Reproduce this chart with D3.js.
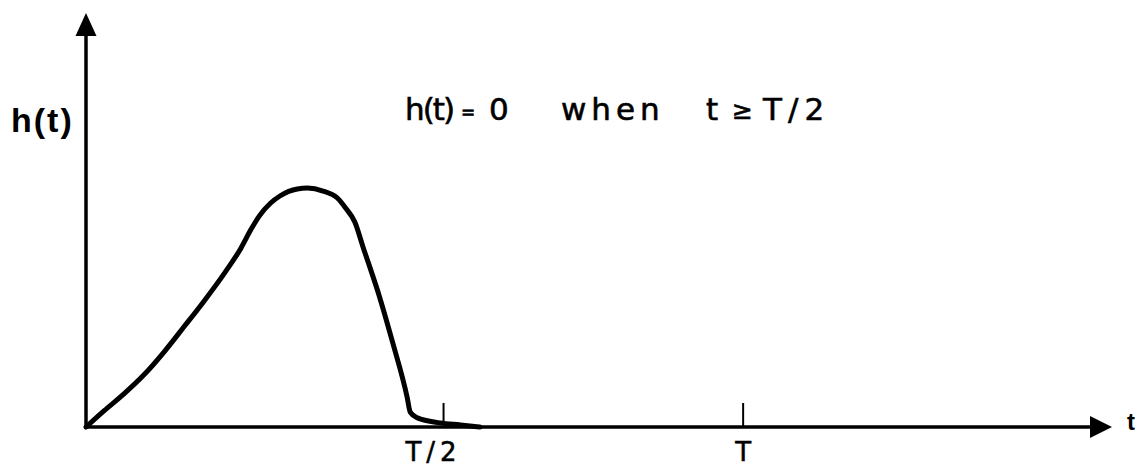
<!DOCTYPE html>
<html>
<head>
<meta charset="utf-8">
<script src="https://cdn.jsdelivr.net/npm/d3@7"></script>
<style>
  html, body { margin: 0; padding: 0; background: #fff; }
  svg { display: block; }
</style>
</head>
<body>
<svg id="chart" width="1137" height="468"></svg>
<script>
// Impulse response sketch: h(t) rises, peaks, and falls to zero before T/2.
const tValues = [0, 1.75, 3.7, 5.65, 7.6, 9.55, 11.5, 13.45, 15.1, 16.1, 16.9, 18.0, 18.9,
                 20.6, 21.6, 23.1, 24.5, 25.3, 26.2, 27.0, 28.7, 29.9, 31.3, 31.6, 32.3,
                 34.5, 36.5, 38.4];
const hValues = [0, 3.9, 8.0, 12.6, 18.1, 24.2, 30.4, 37.0, 43.2, 47.8, 51.0, 54.1, 55.8,
                 57.5, 57.7, 57.0, 55.3, 52.9, 49.5, 43.5, 30.7, 20.3, 7.2, 3.6, 2.2,
                 1.0, 0.5, 0];

// Positions of the marked instants on the time axis, and their labels
const tickValues = [34.8, 64.0];
const tickLabels = ["T/2", "T"];

const sans = "'DejaVu Sans', 'Liberation Sans', Arial, sans-serif";
const sansBold = "'Liberation Sans', Arial, sans-serif";

const svg = d3.select("#chart");

const x = d3.scaleLinear().domain([0, 100]).range([86, 1112]);
const y = d3.scaleLinear().domain([0, 100]).range([427, 13]);

const x0 = x(0), y0 = y(0);
const xEnd = x(100), yEnd = y(100);
const head = 22;

// Axis lines
svg.append("line")
  .attr("x1", x0 - 1).attr("y1", y0).attr("x2", xEnd - head + 2).attr("y2", y0)
  .attr("stroke", "#000").attr("stroke-width", 3.5);
svg.append("line")
  .attr("x1", x0).attr("y1", y0 + 1.5).attr("x2", x0).attr("y2", yEnd + head)
  .attr("stroke", "#000").attr("stroke-width", 3.5);

// Arrowheads
svg.append("path")
  .attr("d", `M${xEnd},${y0} L${xEnd - head},${y0 - 11} L${xEnd - head},${y0 + 11} Z`)
  .attr("fill", "#000");
svg.append("path")
  .attr("d", `M${x0},${yEnd} L${x0 - 10.5},${yEnd + head + 1} L${x0 + 10.5},${yEnd + head + 1} Z`)
  .attr("fill", "#000");

// Time axis ticks (drawn upward) with labels below
const axis = d3.axisBottom(x)
  .tickValues(tickValues)
  .tickFormat((d, i) => tickLabels[i])
  .tickSizeInner(-24)
  .tickSizeOuter(0)
  .tickPadding(16);

const gAxis = svg.append("g")
  .attr("transform", `translate(0,${y0})`)
  .call(axis);
gAxis.select(".domain").remove();
gAxis.selectAll(".tick line").attr("stroke", "#000").attr("stroke-width", 2);
gAxis.selectAll(".tick text")
  .style("font-family", sans)
  .style("font-size", "26px")
  .style("letter-spacing", (d, i) => i === 0 ? "5px" : "0px")
  .attr("dx", (d, i) => i === 0 ? -10 : 0)
  .attr("fill", "#000")
  .attr("stroke", "#000").attr("stroke-width", 0.5);

// The curve
const line = d3.line()
  .x((d, i) => x(tValues[i]))
  .y((d, i) => y(hValues[i]))
  .curve(d3.curveMonotoneX);

svg.append("path")
  .datum(tValues)
  .attr("d", line)
  .attr("fill", "none")
  .attr("stroke", "#000")
  .attr("stroke-width", 5)
  .attr("stroke-linejoin", "round")
  .attr("stroke-linecap", "round");

// Axis names
svg.append("text")
  .attr("x", 11).attr("y", 132)
  .style("font-family", sansBold)
  .style("font-size", "34px").style("font-weight", "bold")
  .style("letter-spacing", "2px")
  .attr("fill", "#000")
  .text("h(t)");
svg.append("text")
  .attr("x", 1127).attr("y", 430)
  .style("font-family", sansBold)
  .style("font-size", "24px").style("font-weight", "bold")
  .attr("fill", "#000")
  .text("t");

// Annotation, set piece by piece like hand lettering
const note = [
  { text: "h(t)", x: 405, y: 120, size: 31, spacing: -2 },
  { text: "=", x: 461, y: 118, size: 17, spacing: 0 },
  { text: "0", x: 489, y: 120, size: 31, spacing: 0 },
  { text: "when", x: 561, y: 120, size: 31, spacing: 5 },
  { text: "t", x: 706, y: 120, size: 31, spacing: 0 },
  { text: "≥", x: 732, y: 119, size: 25, spacing: 0 },
  { text: "T/2", x: 763, y: 120, size: 31, spacing: 6 }
];
svg.append("g").selectAll("text")
  .data(note)
  .join("text")
  .attr("x", d => d.x)
  .attr("y", d => d.y)
  .style("font-family", sans)
  .style("font-size", d => d.size + "px")
  .style("letter-spacing", d => d.spacing + "px")
  .attr("fill", "#000")
  .attr("stroke", "#000").attr("stroke-width", 0.6)
  .text(d => d.text);
</script>
</body>
</html>
